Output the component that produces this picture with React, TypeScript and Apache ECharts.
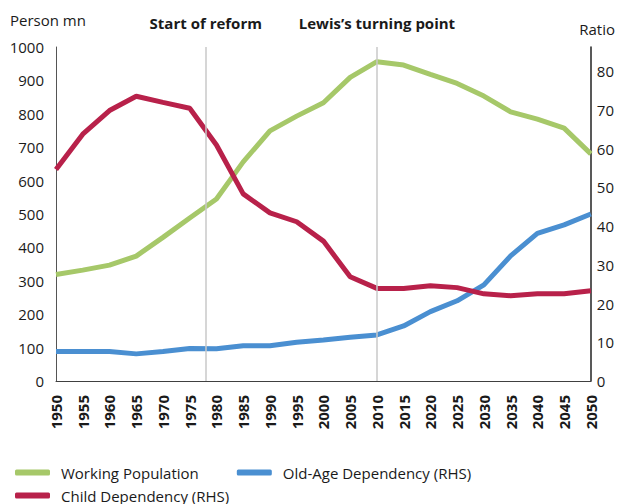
import React, { useEffect, useRef } from "react";
import * as echarts from "echarts";

const years = [1950, 1955, 1960, 1965, 1970, 1975, 1980, 1985, 1990, 1995, 2000, 2005, 2010, 2015, 2020, 2025, 2030, 2035, 2040, 2045, 2050];
const workingPopulation = [319, 332, 347, 374, 430, 488, 545, 656, 749, 793, 833, 909, 956, 946, 918, 891, 853, 806, 784, 757, 680];
const childDependency = [54.6, 63.7, 69.8, 73.5, 71.9, 70.4, 60.9, 48.3, 43.4, 41.1, 36.1, 26.9, 23.9, 23.9, 24.6, 24.1, 22.5, 22.0, 22.5, 22.5, 23.3];
const oldAgeDependency = [7.6, 7.6, 7.6, 7.0, 7.6, 8.4, 8.3, 9.1, 9.1, 10.0, 10.6, 11.3, 11.9, 14.2, 17.9, 20.7, 24.8, 32.3, 38.1, 40.3, 43.1];
const events = [
  { year: 1978, label: "Start of reform" },
  { year: 2010, label: "Lewis\u2019s turning point" },
];

const FONT = "'Open Sans', 'Noto Sans', sans-serif";
const GREEN = "#a6c869";
const RED = "#b8214a";
const BLUE = "#4a8fd1";

export default function App() {
  const ref = useRef<HTMLDivElement>(null);
  useEffect(() => {
    if (!ref.current) return;
    const chart = echarts.init(ref.current, null, { renderer: "svg" });
    const pair = (vals: number[]) => years.map((y, i) => [y, vals[i]]);
    const plain = (v: number) => String(v);
    chart.setOption({
      animation: false,
      textStyle: { fontFamily: FONT },
      grid: { left: 56, right: 24, top: 47, bottom: 123, containLabel: false },
      xAxis: {
        type: "value",
        min: 1950,
        max: 2050,
        interval: 5,
        splitLine: { show: false },
        axisTick: { show: false },
        axisLine: { lineStyle: { color: "#404040", width: 1 } },
        axisLabel: {
          rotate: 90,
          margin: 14,
          color: "#1a1a1a",
          fontSize: 15,
          fontWeight: "bold",
          fontFamily: FONT,
          formatter: plain,
        },
      },
      yAxis: [
        {
          type: "value",
          min: 0,
          max: 1000,
          interval: 100,
          splitLine: { show: false },
          axisTick: { show: false },
          axisLine: { show: true, lineStyle: { color: "#555", width: 1 } },
          axisLabel: { color: "#1a1a1a", fontSize: 15, margin: 12, fontFamily: FONT, formatter: plain },
        },
        {
          type: "value",
          min: 0,
          max: 86.2,
          interval: 10,
          position: "right",
          splitLine: { show: false },
          axisTick: { show: false },
          axisLine: { show: true, lineStyle: { color: "#222", width: 1.5 } },
          axisLabel: { color: "#1a1a1a", fontSize: 15, margin: 6, fontFamily: FONT, showMaxLabel: false, formatter: plain },
        },
      ],
      legend: [
        {
          left: 10,
          top: 460,
          itemGap: 38,
          itemWidth: 35,
          itemHeight: 6,
          icon: "roundRect",
          textStyle: { fontSize: 15, color: "#1a1a1a", fontFamily: FONT, padding: [0, 0, 0, 6] },
          data: ["Working Population", "Old-Age Dependency (RHS)"],
        },
        {
          left: 10,
          top: 483,
          itemWidth: 35,
          itemHeight: 6,
          icon: "roundRect",
          textStyle: { fontSize: 15, color: "#1a1a1a", fontFamily: FONT, padding: [0, 0, 0, 6] },
          data: ["Child Dependency (RHS)"],
        },
      ],
      graphic: [
        { type: "text", left: 10, top: 12, style: { text: "Person mn", fontSize: 15, fill: "#1a1a1a", fontFamily: FONT } },
        { type: "text", right: 2, top: 21, style: { text: "Ratio", fontSize: 15, fill: "#1a1a1a", fontFamily: FONT } },
      ],
      series: [
        {
          name: "Working Population",
          type: "line",
          yAxisIndex: 0,
          data: pair(workingPopulation),
          symbol: "none",
          lineStyle: { color: GREEN, width: 5 },
          itemStyle: { color: GREEN },
          z: 3,
          markLine: {
            silent: true,
            symbol: "none",
            lineStyle: { color: "#c8c8c8", width: 1.5, type: "solid" },
            label: {
              show: true,
              position: "end",
              formatter: "{b}",
              fontSize: 15,
              fontWeight: "bold",
              color: "#1a1a1a",
              fontFamily: FONT,
              distance: 17,
            },
            data: events.map((e) => ({ xAxis: e.year, name: e.label })),
          },
        },
        {
          name: "Old-Age Dependency (RHS)",
          type: "line",
          yAxisIndex: 1,
          data: pair(oldAgeDependency),
          symbol: "none",
          lineStyle: { color: BLUE, width: 5 },
          itemStyle: { color: BLUE },
          z: 3,
        },
        {
          name: "Child Dependency (RHS)",
          type: "line",
          yAxisIndex: 1,
          data: pair(childDependency),
          symbol: "none",
          lineStyle: { color: RED, width: 5 },
          itemStyle: { color: RED },
          z: 3,
        },
      ],
    });
    return () => chart.dispose();
  }, []);
  return <div ref={ref} style={{ width: 617, height: 504, position: "absolute", left: 0, top: 0 }} />;
}
